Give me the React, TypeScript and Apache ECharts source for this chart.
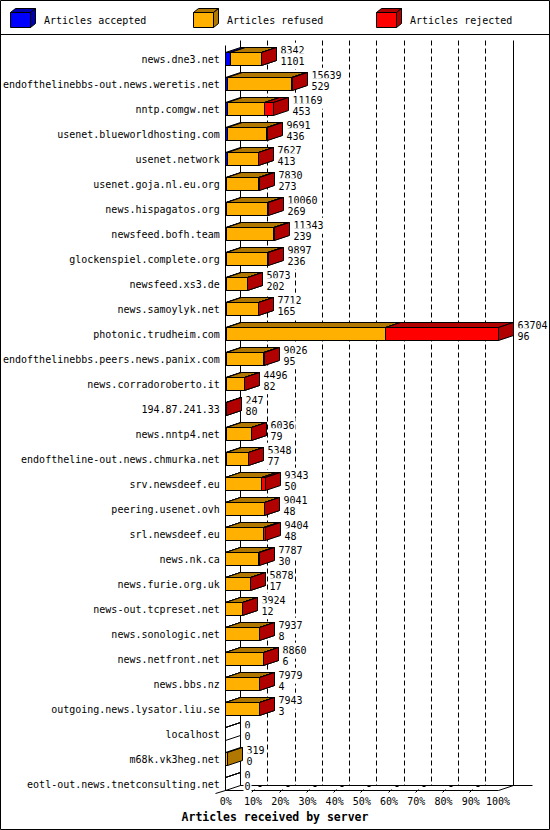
import React, { useEffect, useRef } from "react";
import * as echarts from "echarts";

const categories = [
  "news.dne3.net",
  "endofthelinebbs-out.news.weretis.net",
  "nntp.comgw.net",
  "usenet.blueworldhosting.com",
  "usenet.network",
  "usenet.goja.nl.eu.org",
  "news.hispagatos.org",
  "newsfeed.bofh.team",
  "glockenspiel.complete.org",
  "newsfeed.xs3.de",
  "news.samoylyk.net",
  "photonic.trudheim.com",
  "endofthelinebbs.peers.news.panix.com",
  "news.corradoroberto.it",
  "194.87.241.33",
  "news.nntp4.net",
  "endoftheline-out.news.chmurka.net",
  "srv.newsdeef.eu",
  "peering.usenet.ovh",
  "srl.newsdeef.eu",
  "news.nk.ca",
  "news.furie.org.uk",
  "news-out.tcpreset.net",
  "news.sonologic.net",
  "news.netfront.net",
  "news.bbs.nz",
  "outgoing.news.lysator.liu.se",
  "localhost",
  "m68k.vk3heg.net",
  "eotl-out.news.tnetconsulting.net",
];

// numbers printed to the right of each bar (offered / accepted)
const offered = [
  8342, 15639, 11169, 9691, 7627, 7830, 10060, 11343, 9897, 5073, 7712, 63704,
  9026, 4496, 247, 6036, 5348, 9343, 9041, 9404, 7787, 5878, 3924, 7937, 8860,
  7979, 7943, 0, 319, 0,
];
const accepted = [
  1101, 529, 453, 436, 413, 273, 269, 239, 236, 202, 165, 96, 95, 82, 80, 79,
  77, 50, 48, 48, 30, 17, 12, 8, 6, 4, 3, 0, 0, 0,
];
// estimated from the bar segments
const refused = [
  7181, 14810, 8686, 9005, 7154, 7497, 9491, 10984, 9581, 4791, 7487, 37240,
  8851, 4364, 0, 5907, 5191, 8343, 8913, 8706, 7707, 5831, 3872, 7889, 8814,
  7935, 7900, 0, 319, 0,
];
const rejected = [
  60, 300, 2030, 250, 60, 60, 300, 120, 80, 80, 60, 26368, 80, 50, 167, 50, 80,
  950, 80, 650, 50, 30, 40, 40, 40, 40, 40, 0, 0, 0,
];

const legendNames = ["Articles accepted", "Articles refused", "Articles rejected"];
const xTicks = [0, 10, 20, 30, 40, 50, 60, 70, 80, 90, 100];
const titleText = "Articles received by server";

const FONT = "'DejaVu Sans Mono', 'Liberation Mono', monospace";
const FRONT = ["#0000ff", "#ffb000", "#ff0000"];
const DARK = ["#0000b0", "#b07800", "#b00000"];

const GRID_LEFT = 225;
const GRID_WIDTH = 273;
const GRID_TOP = 46.7;
const GRID_HEIGHT = 750;
const DX = 15;
const DY = 5;

const snap = (v: number) => Math.floor(v) + 0.5;

function segRender(idx: number) {
  return (params: any, api: any) => {
    const s = api.value(0);
    const e = api.value(1);
    const c = api.value(2);
    const tot = api.value(3);
    const drawEmpty = idx === 2 && tot === 0;
    if (!(e > s) && !drawEmpty) return null;
    const p1 = api.coord([s, c]);
    const p2 = api.coord([e, c]);
    const band = api.size([0, 1])[1];
    const h = band * 0.5;
    const top = snap(p1[1] - h / 2);
    const bot = snap(p1[1] + h / 2);
    const x1 = snap(p1[0]);
    const x2 = Math.max(x1, snap(p2[0]));
    const fFill = drawEmpty ? "none" : FRONT[idx];
    const dFill = drawEmpty ? "none" : DARK[idx];
    return {
      type: "group",
      children: [
        {
          type: "rect",
          shape: { x: x1, y: top, width: x2 - x1, height: bot - top },
          style: { fill: fFill, stroke: "#000", lineWidth: 1 },
        },
        {
          type: "polygon",
          shape: {
            points: [
              [x1, top],
              [x2, top],
              [x2 + DX, top - DY],
              [x1 + DX, top - DY],
            ],
          },
          style: { fill: dFill, stroke: "#000", lineWidth: 1 },
        },
        {
          type: "polygon",
          shape: {
            points: [
              [x2, top],
              [x2 + DX, top - DY],
              [x2 + DX, bot - DY],
              [x2, bot],
            ],
          },
          style: { fill: dFill, stroke: "#000", lineWidth: 1 },
        },
      ],
    };
  };
}

function bgRender(params: any, api: any) {
  const n = categories.length;
  const pL = api.coord([0, 0]);
  const pR = api.coord([100, 0]);
  const pLast = api.coord([0, n - 1]);
  const band = api.size([0, 1])[1];
  const h = band * 0.5;
  const floorFront = snap(pLast[1] + h / 2);
  const floorBack = floorFront - DY;
  const wallTop = snap(pL[1] - band / 2 - 6.5);
  const frontTop = wallTop + 5;
  const xl = snap(pL[0]);
  const xr = snap(pR[0]);
  const ln = (x1: number, y1: number, x2: number, y2: number, dash?: number[]) => ({
    type: "line",
    shape: { x1, y1, x2, y2 },
    style: { stroke: "#000", lineWidth: 1, lineDash: dash || null },
  });
  const children: any[] = [];
  xTicks.forEach((t) => {
    if (t === 0 || t === 100) return;
    const x = snap(api.coord([t, 0])[0]) + DX;
    children.push(ln(x, wallTop, x, floorBack, [5, 3]));
  });
  children.push(ln(xl + DX, wallTop, xl + DX, floorBack));
  children.push(ln(xr + DX, wallTop, xr + DX, floorBack));
  children.push(ln(xl, frontTop, xl, floorFront));
  children.push(ln(xl, floorFront, xr, floorFront));
  children.push(ln(xr, floorFront, xr + DX, floorBack));
  children.push(ln(xl + DX, floorBack, xr + DX + 19, floorBack));
  xTicks.forEach((t) => {
    const fx = snap(api.coord([t, 0])[0]);
    if (t === 0) {
      children.push(ln(fx - 10, floorFront + 3, fx, floorFront));
      return;
    }
    if (t === 100) return;
    children.push(ln(fx - 1, floorFront + 2, fx + 2, floorFront - 1));
    children.push({
      type: "rect",
      shape: { x: fx + 6, y: floorBack - 0.5, width: 3, height: 2 },
      style: { fill: "#000" },
    });
  });
  return { type: "group", children };
}

function labelRender(params: any, api: any) {
  const v = api.value(0);
  const c = api.value(1);
  const i = params.dataIndex;
  const p = api.coord([v, c]);
  const x = snap(p[0]) + DX + 3;
  const mk = (text: string, y: number) => ({
    type: "text",
    style: {
      text,
      x,
      y,
      fill: "#000",
      fontSize: 10,
      fontFamily: FONT,
      align: "left",
      verticalAlign: "middle",
      backgroundColor: "#fff",
      padding: [3, 1, 3, 1],
    },
  });
  return {
    type: "group",
    children: [mk(String(offered[i]), p[1] - 8.5), mk(String(accepted[i]), p[1] + 2)],
  };
}

export default function App() {
  const ref = useRef<HTMLDivElement>(null);
  useEffect(() => {
    if (!ref.current) return;
    const chart = echarts.init(ref.current, undefined, { renderer: "svg" });
    const maxTotal = Math.max(...offered);
    const pct = (v: number) => (v / maxTotal) * 100;
    const accData = categories.map((_, i) => [0, pct(accepted[i]), i, offered[i]]);
    const refData = categories.map((_, i) => [
      pct(accepted[i]),
      pct(accepted[i] + refused[i]),
      i,
      offered[i],
    ]);
    const rejData = categories.map((_, i) => [
      pct(accepted[i] + refused[i]),
      pct(accepted[i] + refused[i] + rejected[i]),
      i,
      offered[i],
    ]);
    const labData = categories.map((_, i) => [
      pct(accepted[i] + refused[i] + rejected[i]),
      i,
    ]);

    const legendGraphics: any[] = [];
    legendNames.forEach((name, i) => {
      const x0 = 10 + 183 * i;
      legendGraphics.push(
        {
          type: "rect",
          shape: { x: x0 + 0.5, y: 12.5, width: 20, height: 15 },
          style: { fill: FRONT[i], stroke: "#000", lineWidth: 1 },
        },
        {
          type: "polygon",
          shape: {
            points: [
              [x0 + 0.5, 12.5],
              [x0 + 20.5, 12.5],
              [x0 + 25.5, 8.5],
              [x0 + 5.5, 8.5],
            ],
          },
          style: { fill: DARK[i], stroke: "#000", lineWidth: 1 },
        },
        {
          type: "polygon",
          shape: {
            points: [
              [x0 + 20.5, 12.5],
              [x0 + 25.5, 8.5],
              [x0 + 25.5, 23.5],
              [x0 + 20.5, 27.5],
            ],
          },
          style: { fill: DARK[i], stroke: "#000", lineWidth: 1 },
        },
        {
          type: "text",
          style: {
            text: name,
            x: x0 + 34,
            y: 20,
            fill: "#000",
            fontSize: 10,
            fontFamily: FONT,
            verticalAlign: "middle",
          },
        }
      );
    });

    chart.setOption({
      animation: false,
      backgroundColor: "#fff",
      grid: {
        left: GRID_LEFT,
        top: GRID_TOP,
        width: GRID_WIDTH,
        height: GRID_HEIGHT,
        containLabel: false,
      },
      xAxis: {
        type: "value",
        min: 0,
        max: 100,
        interval: 10,
        axisLine: { show: false },
        axisTick: { show: false },
        splitLine: { show: false },
        axisLabel: {
          formatter: "{value}%",
          color: "#000",
          fontSize: 10,
          fontFamily: FONT,
          margin: 0,
          lineHeight: 10,
        },
      },
      yAxis: {
        type: "category",
        data: categories,
        inverse: true,
        axisLine: { show: false },
        axisTick: { show: false },
        splitLine: { show: false },
        axisLabel: {
          color: "#000",
          fontSize: 10,
          fontFamily: FONT,
          margin: 6,
          interval: 0,
        },
      },
      graphic: [
        {
          type: "rect",
          shape: { x: 0.5, y: 0.5, width: 549, height: 829 },
          style: { fill: "none", stroke: "#000", lineWidth: 1 },
          z: 10,
        },
        {
          type: "line",
          shape: { x1: 0, y1: 34.5, x2: 550, y2: 34.5 },
          style: { stroke: "#000", lineWidth: 1 },
          z: 10,
        },
        ...legendGraphics.map((g) => ({ ...g, z: 10 })),
        {
          type: "text",
          style: {
            text: titleText,
            x: 275,
            y: 817,
            fill: "#000",
            fontSize: 11.5,
            fontWeight: "bold",
            fontFamily: FONT,
            align: "center",
            verticalAlign: "middle",
          },
          z: 10,
        },
      ],
      series: [
        {
          type: "custom",
          name: "frame",
          renderItem: bgRender,
          data: [[0, 0]],
          encode: { x: 0, y: 1 },
          clip: false,
          silent: true,
          z: 1,
        },
        {
          type: "custom",
          name: legendNames[0],
          renderItem: segRender(0),
          data: accData,
          encode: { x: [0, 1], y: 2 },
          clip: false,
          z: 2,
        },
        {
          type: "custom",
          name: legendNames[1],
          renderItem: segRender(1),
          data: refData,
          encode: { x: [0, 1], y: 2 },
          clip: false,
          z: 3,
        },
        {
          type: "custom",
          name: legendNames[2],
          renderItem: segRender(2),
          data: rejData,
          encode: { x: [0, 1], y: 2 },
          clip: false,
          z: 4,
        },
        {
          type: "custom",
          name: "labels",
          renderItem: labelRender,
          data: labData,
          encode: { x: 0, y: 1 },
          clip: false,
          z: 5,
        },
      ],
    });
    return () => chart.dispose();
  }, []);
  return (
    <div
      ref={ref}
      style={{
        position: "fixed",
        left: 0,
        top: 0,
        width: 550,
        height: 830,
        background: "#fff",
      }}
    />
  );
}
